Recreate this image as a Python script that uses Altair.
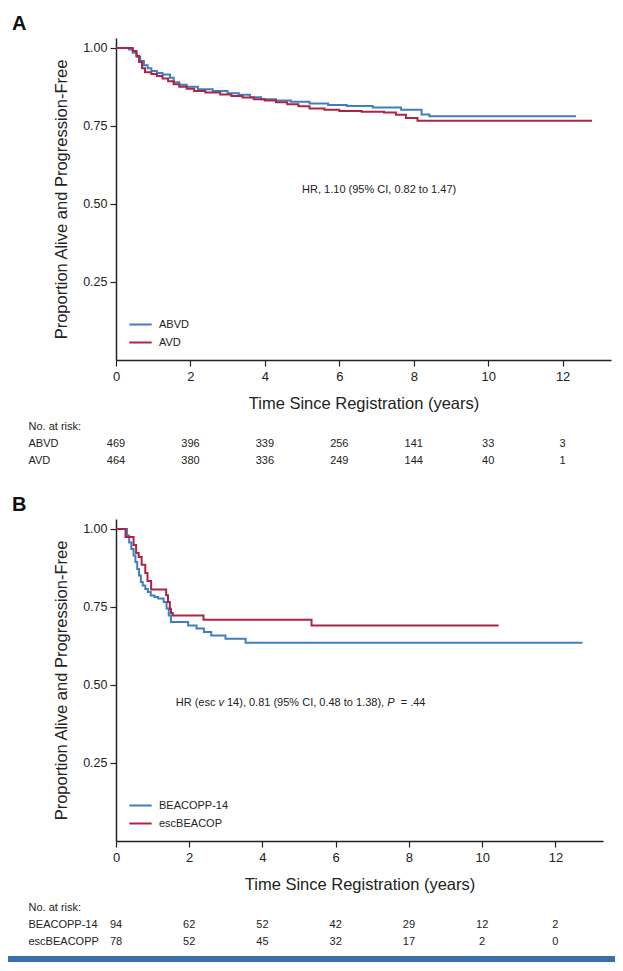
import altair as alt
import pandas as pd

BLUE = "#3f7fbf"
RED = "#ad2445"
INK = "#222222"
FONT = "Liberation Sans"

# ---------------- Panel A (Kaplan-Meier, years / proportion) ----------------
abvd_t = [0, 0.35, 0.45, 0.55, 0.65, 0.75, 0.85, 0.95, 1.1, 1.25, 1.45, 1.55, 1.7, 1.9, 2.2,
          2.6, 3.0, 3.3, 3.6, 3.9, 4.3, 4.7, 5.2, 5.7, 6.2, 6.9, 7.66, 8.21, 8.42, 12.36]
abvd_s = [1.0, 0.995, 0.985, 0.972, 0.958, 0.945, 0.935, 0.926, 0.92, 0.915, 0.905, 0.89, 0.882,
          0.876, 0.868, 0.862, 0.855, 0.85, 0.842, 0.836, 0.832, 0.828, 0.822, 0.817, 0.814,
          0.809, 0.802, 0.787, 0.781, 0.781]
avd_t = [0, 0.45, 0.55, 0.62, 0.7, 0.78, 0.95, 1.1, 1.25, 1.4, 1.55, 1.7, 1.9, 2.1, 2.4, 2.8,
         3.1, 3.4, 3.7, 4.0, 4.3, 4.6, 4.9, 5.2, 5.6, 6.0, 6.6, 7.2, 7.52, 7.79, 8.1, 12.79]
avd_s = [1.0, 0.99, 0.975, 0.955, 0.935, 0.922, 0.917, 0.91, 0.902, 0.893, 0.884, 0.876, 0.869,
         0.862, 0.857, 0.851, 0.846, 0.841, 0.836, 0.832, 0.826, 0.82, 0.813, 0.806, 0.802,
         0.798, 0.796, 0.793, 0.786, 0.776, 0.767, 0.767]

# ---------------- Panel B ----------------
beacopp_t = [0, 0.3, 0.36, 0.42, 0.48, 0.53, 0.58, 0.63, 0.68, 0.73, 0.8, 0.87, 0.95, 1.05,
             1.15, 1.3, 1.38, 1.44, 1.5, 1.97, 2.2, 2.4, 2.6, 2.99, 3.54, 12.74]
beacopp_s = [1.0, 0.979, 0.957, 0.936, 0.915, 0.894, 0.872, 0.851, 0.83, 0.819, 0.808, 0.798,
             0.787, 0.782, 0.777, 0.766, 0.745, 0.723, 0.702, 0.691, 0.681, 0.67, 0.659, 0.648,
             0.635, 0.635]
esc_t = [0, 0.26, 0.48, 0.55, 0.62, 0.7, 0.8, 0.86, 0.96, 1.37, 1.42, 1.47, 1.5, 1.55, 2.39,
         5.34, 10.45]
esc_s = [1.0, 0.974, 0.949, 0.923, 0.91, 0.885, 0.859, 0.833, 0.806, 0.788, 0.766, 0.744,
         0.731, 0.723, 0.709, 0.691, 0.691]

# ---------------- Numbers at risk ----------------
risk_years = [0, 2, 4, 6, 8, 10, 12]
risk_abvd = [469, 396, 339, 256, 141, 33, 3]
risk_avd = [464, 380, 336, 249, 144, 40, 1]
risk_beacopp = [94, 62, 52, 42, 29, 12, 2]
risk_esc = [78, 52, 45, 32, 17, 2, 0]

arms_a = ["ABVD", "AVD"]
legend_b = ["BEACOPP-14", "escBEACOP"]
table_b = ["BEACOPP-14", "escBEACOPP"]

# annotation text: segments and whether each is italic
hr_a_parts = ["HR, 1.10 (95% CI, 0.82 to 1.47)"]
hr_a_italic = [False]
hr_b_parts = ["HR (esc ", "v", " 14), 0.81 (95% CI, 0.48 to 1.38), ", "P", "  = .44"]
hr_b_italic = [False, True, False, True, False]
hr_a_pos = (5.0, 0.545)
hr_b_pos = (1.63, 0.442)

X_MAX = 13.3
Y_MAX = 1.032
tick_years = [0, 2, 4, 6, 8, 10, 12]
tick_props = [0.25, 0.50, 0.75, 1.00]

TEXT_SIZE = 11
# Arial / Liberation Sans advance widths (em) for the annotation characters
_W = {" ": .278, ",": .278, ".": .278, "(": .333, ")": .333, "%": .889, "=": .584,
      "H": .722, "R": .722, "C": .722, "I": .278, "P": .667, "e": .556, "s": .5, "c": .5,
      "v": .5, "t": .278, "o": .556}


def text_width(s):
    return sum(_W.get(ch, .556) for ch in s) * TEXT_SIZE


def km_frame(groups):
    rows = []
    for name, ts, ss in groups:
        for i, (t, s) in enumerate(zip(ts, ss)):
            rows.append({"arm": name, "t": t, "s": s, "i": i})
    return pd.DataFrame(rows)


def km_panel(df, arms, letter, width, parts, italics, pos):
    x = alt.X("t:Q", scale=alt.Scale(domain=[0, X_MAX], nice=False, zero=True),
              axis=alt.Axis(values=tick_years, title="Time Since Registration (years)",
                            grid=False, tickSize=6, labelPadding=4, labelFontSize=13,
                            titleFontSize=16.5, titleFontWeight="normal", titlePadding=12,
                            domainColor=INK, tickColor=INK, labelColor=INK, titleColor=INK,
                            domainWidth=1.5, tickWidth=1.2, labelFlush=False))
    y = alt.Y("s:Q", scale=alt.Scale(domain=[0, Y_MAX], nice=False, zero=True),
              axis=alt.Axis(values=tick_props, format=".2f",
                            title="Proportion Alive and Progression-Free",
                            grid=False, tickSize=6, labelPadding=3, labelFontSize=12.5,
                            titleFontSize=16.5, titleFontWeight="normal", titlePadding=13,
                            domainColor=INK, tickColor=INK, labelColor=INK, titleColor=INK,
                            domainWidth=1.5, tickWidth=1.2, labelFlush=False))
    lines = alt.Chart(df).mark_line(interpolate="step-after", strokeWidth=2).encode(
        x=x, y=y,
        color=alt.Color("arm:N", scale=alt.Scale(domain=arms, range=[BLUE, RED]),
                        legend=alt.Legend(title=None, orient="bottom-left", offset=12,
                                          symbolType="stroke", symbolSize=500,
                                          symbolStrokeWidth=2, labelFontSize=11,
                                          labelFont=FONT, labelColor=INK, rowPadding=-3,
                                          labelOffset=6)),
        order="i:Q")
    layers = [lines]
    offset = 0.0
    for part, it in zip(parts, italics):
        lead = len(part) - len(part.lstrip(" "))
        offset += text_width(" " * lead)
        shown = part.strip(" ")
        seg = pd.DataFrame({"t": [pos[0]], "s": [pos[1]], "label": [shown]})
        layers.append(alt.Chart(seg).mark_text(
            align="left", baseline="middle", fontSize=TEXT_SIZE, font=FONT, color=INK,
            fontStyle="italic" if it else "normal", dx=round(offset, 1)
        ).encode(x=x, y=y, text="label:N"))
        offset += text_width(part.lstrip(" "))
    return alt.layer(*layers).properties(
        width=width, height=322,
        title=alt.TitleParams(letter, anchor="start", frame="group", dx=-104, offset=4,
                              fontSize=20, fontWeight="bold", font=FONT, color="#111111"))


def risk_table(arms, counts, width):
    rows = []
    for arm, cnts in zip(arms, counts):
        for t, c in zip(risk_years, cnts):
            rows.append({"arm": arm, "t": t, "n": str(c)})
    df = pd.DataFrame(rows)
    return alt.Chart(df).mark_text(fontSize=11, font=FONT, color=INK, align="center",
                                   baseline="middle").encode(
        x=alt.X("t:Q", scale=alt.Scale(domain=[0, X_MAX], nice=False), axis=None),
        y=alt.Y("arm:N", scale=alt.Scale(domain=["No. at risk:"] + arms, type="point",
                                         padding=0.5),
                axis=alt.Axis(title=None, domain=False, ticks=False, grid=False,
                              labelAlign="left", labelPadding=88, labelFontSize=11,
                              labelFont=FONT, labelColor=INK)),
        text="n:N").properties(width=width, height=51)


df_a = km_frame([("ABVD", abvd_t, abvd_s), ("AVD", avd_t, avd_s)])
df_b = km_frame([(legend_b[0], beacopp_t, beacopp_s), (legend_b[1], esc_t, esc_s)])

panel_a = km_panel(df_a, arms_a, "A", 495, hr_a_parts, hr_a_italic, hr_a_pos)
panel_b = km_panel(df_b, legend_b, "B", 487, hr_b_parts, hr_b_italic, hr_b_pos)
table_a = risk_table(arms_a, [risk_abvd, risk_avd], 495)
table_bb = risk_table(table_b, [risk_beacopp, risk_esc], 487)

bar = alt.Chart(pd.DataFrame({"k": [0]})).mark_rect(color="#3673ac").encode(
    x=alt.value(-108), x2=alt.value(499), y=alt.value(0), y2=alt.value(6)
).properties(width=487, height=6)

top = alt.vconcat(panel_a, table_a, spacing=6).resolve_scale(
    color="independent", x="independent", y="independent")
bottom = alt.vconcat(panel_b, table_bb, bar, spacing=6).resolve_scale(
    color="independent", x="independent", y="independent")

chart = alt.vconcat(top, bottom, spacing=26).resolve_scale(
    color="independent", x="independent", y="independent"
).resolve_legend(color="independent").properties(
    padding={"top": 6, "left": 0, "right": 0, "bottom": 0}
).configure_view(stroke=None).configure_axis(labelFont=FONT, titleFont=FONT)

chart.save("out.html", embed_options={"renderer": "svg", "actions": False})
